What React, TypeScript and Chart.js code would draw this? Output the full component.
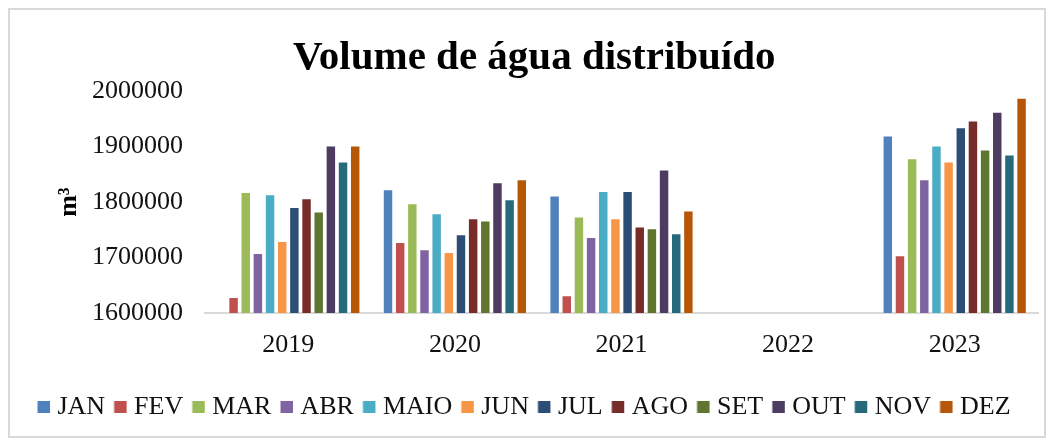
import React, { useEffect, useRef } from "react";
import { Chart, registerables } from "chart.js";

Chart.register(...registerables);

const years = ["2019", "2020", "2021", "2022", "2023"];
const months = ["JAN", "FEV", "MAR", "ABR", "MAIO", "JUN", "JUL", "AGO", "SET", "OUT", "NOV", "DEZ"];
const colors = ["#4F81BD", "#C0504D", "#9BBB59", "#8064A2", "#4BACC6", "#F79646", "#2C4D75", "#772C2A", "#5F7530", "#4D3B62", "#276A7C", "#B65708"];

// values per month, one entry per year (2019, 2020, 2021, 2022, 2023)
const jan = [null, 1823000, 1812000, null, 1920000];
const fev = [1629000, 1728000, 1632000, null, 1704000];
const mar = [1818000, 1798000, 1774000, null, 1879000];
const abr = [1708000, 1715000, 1737000, null, 1841000];
const maio = [1814000, 1780000, 1820000, null, 1902000];
const jun = [1730000, 1710000, 1771000, null, 1873000];
const jul = [1791000, 1742000, 1820000, null, 1935000];
const ago = [1807000, 1771000, 1756000, null, 1947000];
const set = [1783000, 1767000, 1753000, null, 1895000];
const out = [1902000, 1836000, 1859000, null, 1963000];
const nov = [1873000, 1805000, 1744000, null, 1886000];
const dez = [1902000, 1841000, 1785000, null, 1988000];

const series = [jan, fev, mar, abr, maio, jun, jul, ago, set, out, nov, dez];

const yMin = 1600000;
const yMax = 2000000;
const yStep = 100000;

const title = "  Volume de água distribuído";
const yTitle = "m³";

const FONT = "'Liberation Serif', 'Times New Roman', serif";

function makeSwatch(color: string): HTMLCanvasElement {
  // 20x12 image; centered on the 7px legend box, so the square sits at the item's left edge
  const c = document.createElement("canvas");
  c.width = 20;
  c.height = 12;
  const ctx = c.getContext("2d")!;
  ctx.fillStyle = color;
  ctx.fillRect(6.5, 0, 12.5, 12);
  return c;
}

export default function App() {
  const ref = useRef<HTMLCanvasElement | null>(null);

  useEffect(() => {
    if (!ref.current) return;
    const swatches = colors.map(makeSwatch);
    const chart = new Chart(ref.current, {
      type: "bar",
      data: {
        labels: years,
        datasets: months.map((m, i) => ({
          label: m,
          data: series[i],
          backgroundColor: colors[i],
          borderColor: "rgba(255,255,255,0.45)",
          borderWidth: 1,
          categoryPercentage: 0.876,
          barPercentage: 0.86,
        })),
      },
      options: {
        animation: false,
        responsive: false,
        devicePixelRatio: 1,
        layout: { padding: { top: 0, left: 0, right: 6, bottom: 6 } },
        plugins: {
          title: {
            display: true,
            text: title,
            color: "#000",
            font: { family: FONT, size: 41, weight: "bold" },
            padding: { top: 24, bottom: 8 },
          },
          legend: {
            display: true,
            position: "bottom",
            labels: {
              color: "#111",
              font: { family: FONT, size: 26 },
              usePointStyle: true,
              boxWidth: 7,
              boxHeight: 12,
              padding: 9,
              generateLabels: (ch: any) => {
                const items = Chart.defaults.plugins.legend.labels.generateLabels(ch);
                return items.map((it: any, i: number) => ({ ...it, pointStyle: swatches[i] }));
              },
            },
          },
          tooltip: { enabled: false },
        },
        scales: {
          x: {
            grid: { display: false, drawTicks: false },
            border: { display: true, color: "#d9d9d9", width: 2 },
            ticks: { color: "#111", font: { family: FONT, size: 26 }, padding: 17 },
            afterFit: (s: any) => {
              s.height = 72;
            },
          },
          y: {
            min: yMin,
            max: yMax,
            grid: { display: false, drawTicks: false },
            border: { display: false },
            ticks: {
              stepSize: yStep,
              color: "#111",
              font: { family: FONT, size: 26 },
              padding: 22,
              callback: (v: any) => String(v),
            },
            title: {
              display: true,
              text: yTitle,
              color: "#000",
              font: { family: FONT, size: 26, weight: "bold" },
              padding: { top: 44, bottom: 0 },
            },
            afterFit: (s: any) => {
              s.width = 195;
            },
          },
        },
      },
    });
    return () => chart.destroy();
  }, []);

  return (
    <div
      style={{
        width: 1038,
        height: 430,
        boxSizing: "border-box",
        border: "2px solid #d9d9d9",
        background: "#fff",
      }}
    >
      <canvas ref={ref} width={1034} height={426} style={{ display: "block", width: 1034, height: 426 }} />
    </div>
  );
}
